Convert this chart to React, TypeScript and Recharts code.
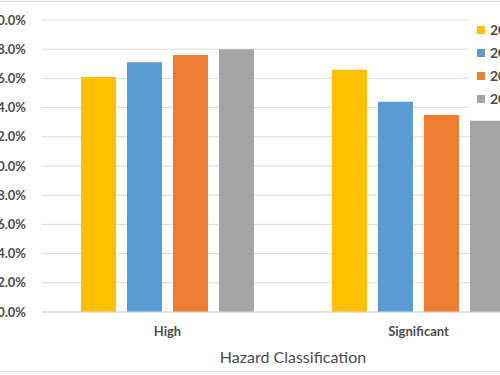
import React from 'react';
import { BarChart, Bar, XAxis, YAxis, CartesianGrid, Legend } from 'recharts';

const categories = ['High', 'Significant'];
const years = ['2015', '2016', '2017', '2018'];
const values2015 = [16.1, 16.6];
const values2016 = [17.1, 14.4];
const values2017 = [17.6, 13.5];
const values2018 = [18.0, 13.1];
const yTicks = [0, 2, 4, 6, 8, 10, 12, 14, 16, 18, 20];

const colors = ['#FFC000', '#5B9BD5', '#ED7D31', '#A5A5A5'];
const seriesValues = [values2015, values2016, values2017, values2018];

const data = categories.map((name, i) => {
  const row: Record<string, string | number> = { name };
  years.forEach((y, j) => {
    row[y] = seriesValues[j][i];
  });
  return row;
});

const FONT = 'Lato, "Open Sans", sans-serif';
const TEXT = '#4d4d4d';
const GRID = '#d9d9d9';

const LegendBox = ({ payload }: any) => (
  <div style={{ background: '#fff', padding: '6px 10px 6px 9px', fontFamily: FONT }}>
    {(payload || []).map((p: any) => (
      <div key={p.value} style={{ height: 23, display: 'flex', alignItems: 'center', whiteSpace: 'nowrap' }}>
        <span style={{ width: 8, height: 8, background: p.color, display: 'inline-block', marginRight: 5 }} />
        <span style={{ fontSize: 14, fontWeight: 700, color: TEXT }}>{p.value}</span>
      </div>
    ))}
  </div>
);

export default function App() {
  return (
    <div style={{ position: 'absolute', left: 0, top: 0, width: 500, height: 375, overflow: 'hidden', background: '#fff' }}>
      <div
        style={{
          position: 'absolute',
          left: -40,
          top: 1,
          width: 645,
          height: 371,
          boxSizing: 'border-box',
          border: `1px solid ${GRID}`,
        }}
      >
        <BarChart
          width={643}
          height={369}
          data={data}
          margin={{ top: 18, right: 60, left: 0, bottom: 0 }}
          barSize={35}
          barGap={11}
        >
          <CartesianGrid vertical={false} stroke={GRID} />
          <XAxis
            dataKey="name"
            height={59}
            axisLine={{ stroke: GRID }}
            tickLine={false}
            tickSize={13}
            tick={{ fill: TEXT, fontSize: 13, fontWeight: 700, fontFamily: FONT }}
            label={{
              value: 'Hazard Classification',
              position: 'insideBottom',
              offset: 8,
              fill: TEXT,
              fontSize: 16,
              fontFamily: FONT,
            }}
          />
          <YAxis
            width={81}
            domain={[0, 20]}
            ticks={yTicks}
            interval={0}
            axisLine={false}
            tickLine={false}
            tickSize={14}
            tick={{ fill: TEXT, fontSize: 13, fontWeight: 700, fontFamily: FONT }}
            tickFormatter={(v: number) => `${v.toFixed(1)}%`}
          />
          <Legend
            layout="vertical"
            align="center"
            verticalAlign="middle"
            content={<LegendBox />}
            wrapperStyle={{ left: 507, top: 10, width: 'auto', height: 'auto' }}
          />
          {years.map((y, j) => (
            <Bar key={y} dataKey={y} fill={colors[j]} isAnimationActive={false} />
          ))}
        </BarChart>
      </div>
    </div>
  );
}
